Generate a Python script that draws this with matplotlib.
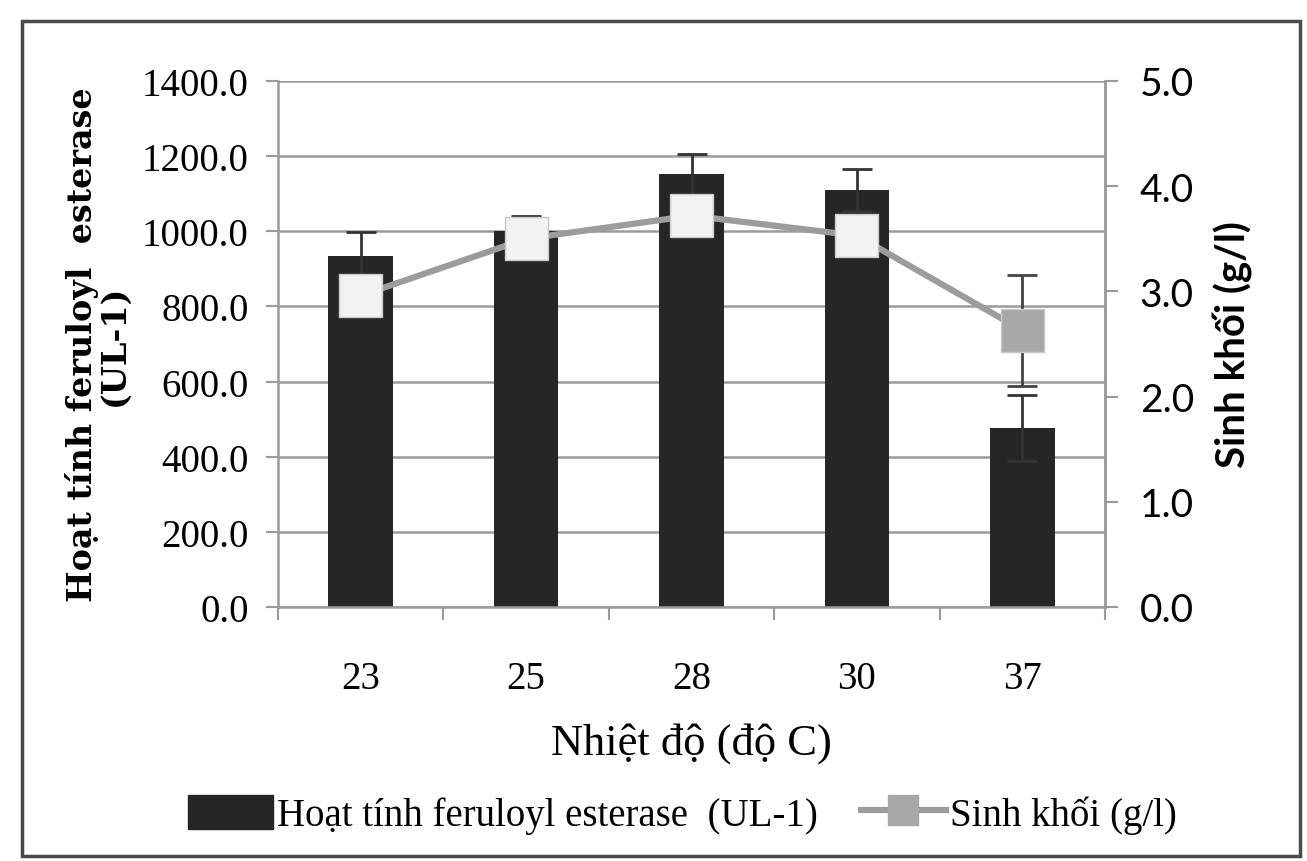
import numpy as np
import matplotlib.pyplot as plt
from matplotlib.patches import Rectangle
from matplotlib.lines import Line2D

temps = ['23', '25', '28', '30', '37']
activity = [935, 1002, 1152, 1111, 476]
activity_err = [62, 40, 55, 56, 88]
biomass = [2.96, 3.50, 3.72, 3.53, 2.63]
biomass_err = [0.0, 0.0, 0.0, 0.0, 0.53]
marker_colors = ['#f2f2f2', '#f2f2f2', '#f2f2f2', '#f2f2f2', '#a8a8a8']

serif = 'Liberation Serif'
grid_c = '#9a9a9a'

fig = plt.figure(figsize=(13.07, 8.62), dpi=100)
ax = fig.add_axes([278 / 1307, 1 - 608 / 862, (1105 - 278) / 1307, (608 - 82) / 862])
x = np.arange(len(temps))

ax.set_axisbelow(True)
ax.bar(x, activity, width=0.39, color='#262626', zorder=2)
ax.errorbar(x, activity, yerr=activity_err, fmt='none', ecolor='#333333',
            elinewidth=2, capsize=11, capthick=2, zorder=3)
ax.set_ylim(0, 1400)
ax.set_xlim(-0.5, 4.5)
ax.set_yticks(np.arange(0, 1401, 200))
ax.set_yticklabels([f'{v:.1f}' for v in np.arange(0, 1401, 200)],
                   fontfamily=serif, fontsize=28)
ax.set_xticks(x)
ax.set_xticklabels(temps, fontfamily=serif, fontsize=28)
ax.set_xticks(np.arange(-0.5, 4.6, 1), minor=True)
ax.tick_params(axis='x', which='major', length=0, pad=38)
ax.tick_params(axis='x', which='minor', length=9, width=1.5, color=grid_c)
ax.tick_params(axis='y', length=9, width=1.5, color=grid_c, pad=12)
ax.grid(axis='y', color=grid_c, linewidth=1.8)
ax.spines['top'].set_visible(False)
for s in ['left', 'bottom', 'right']:
    ax.spines[s].set_color(grid_c)
    ax.spines[s].set_linewidth(1.8)
ax.set_xlabel('Nhiệt độ (độ C)', fontfamily=serif, fontsize=32, labelpad=18)
ax.set_ylabel('Hoạt tính feruloyl  esterase\n(UL-1)', fontfamily='DejaVu Serif',
              fontweight='bold', fontsize=24, labelpad=8, linespacing=0.95)

ax2 = ax.twinx()
ax2.plot(x, biomass, color='#9c9c9c', linewidth=4.5, zorder=4)
ax2.errorbar(x, biomass, yerr=biomass_err, fmt='none', ecolor='#444444',
             elinewidth=2, capsize=11, capthick=2, zorder=4)
ax2.scatter(x, biomass, marker='s', s=950, c=marker_colors, edgecolors='#c8c8c8',
            linewidths=1, zorder=5)
ax2.set_ylim(0, 5)
ax2.set_yticks(np.arange(0, 5.1, 1))
ax2.set_yticklabels([f'{v:.1f}' for v in np.arange(0, 5.1, 1)],
                    fontfamily='Lato', fontsize=28)
ax2.tick_params(axis='y', length=9, width=1.5, color=grid_c, pad=16)
for s in ['top', 'left', 'bottom']:
    ax2.spines[s].set_visible(False)
ax2.spines['right'].set_color(grid_c)
ax2.spines['right'].set_linewidth(1.8)
ax2.set_ylabel('Sinh khối (g/l)', fontfamily='Lato', fontweight='bold',
               fontsize=29, labelpad=14)

handles = [Rectangle((0, 0), 1, 1, color='#262626'),
           Line2D([0], [0], color='#9c9c9c', linewidth=4.5, marker='s',
                  markersize=21, markerfacecolor='#a8a8a8', markeredgecolor='#a8a8a8')]
fig.legend(handles, ['Hoạt tính feruloyl esterase  (UL-1)', 'Sinh khối (g/l)'],
           loc='center', bbox_to_anchor=(0.522, 0.054), ncol=2, frameon=False,
           prop={'family': serif, 'size': 28}, handlelength=2.2, handleheight=1.0,
           handletextpad=0.1, columnspacing=1.1)

fig.patches.append(Rectangle((22 / 1307, 5 / 862), 1278 / 1307, 835 / 862,
                             transform=fig.transFigure, fill=False,
                             edgecolor='#4a4a4a', linewidth=2.5))

fig.savefig('out.png', dpi=100)
